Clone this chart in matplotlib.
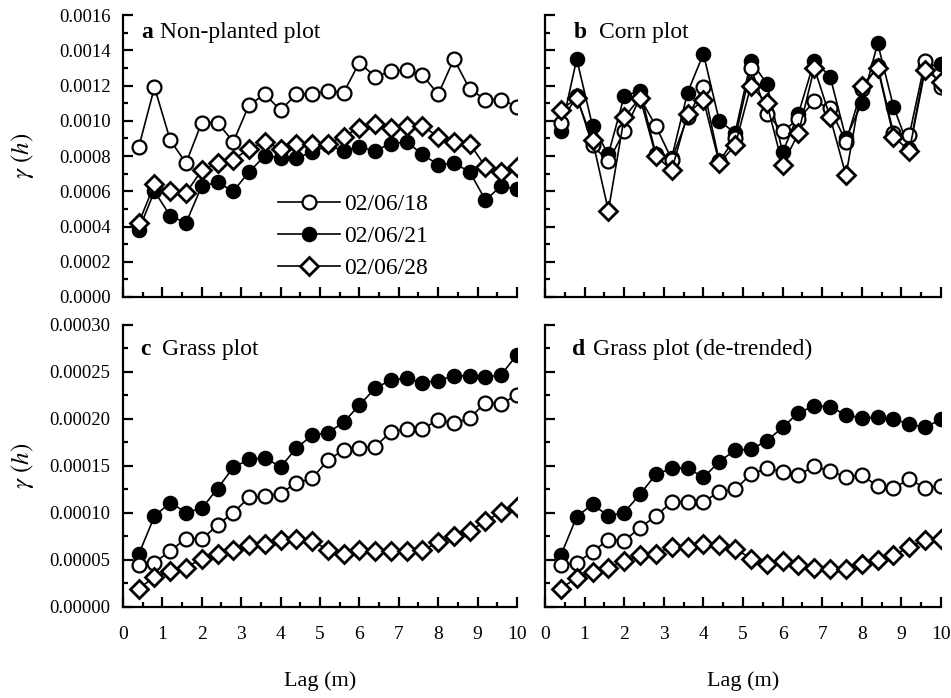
import matplotlib.pyplot as plt
from matplotlib.ticker import MultipleLocator, FormatStrFormatter

plt.rcParams['font.family'] = ['Liberation Serif', 'DejaVu Serif']
plt.rcParams['mathtext.fontset'] = 'stix'

#lag distances (m)
lag = [0.4, 0.8, 1.2, 1.6, 2.0, 2.4, 2.8, 3.2, 3.6, 4.0, 4.4, 4.8, 5.2,
       5.6, 6.0, 6.4, 6.8, 7.2, 7.6, 8.0, 8.4, 8.8, 9.2, 9.6, 10.0]
dates = ["02/06/18", "02/06/21", "02/06/28"]

#a Non-planted plot
a18 = [0.00085, 0.00119, 0.00089, 0.00076, 0.00099, 0.00099, 0.00088, 0.00109, 0.00115,
       0.00106, 0.00115, 0.00115, 0.00117, 0.00116, 0.00133, 0.00125, 0.00128, 0.00129,
       0.00126, 0.00115, 0.00135, 0.00118, 0.00112, 0.00112, 0.00108]
a21 = [0.00038, 0.00060, 0.00046, 0.00042, 0.00063, 0.00065, 0.00060, 0.00071, 0.00080,
       0.00079, 0.00079, 0.00082, 0.00086, 0.00083, 0.00085, 0.00083, 0.00087, 0.00088,
       0.00081, 0.00075, 0.00076, 0.00071, 0.00055, 0.00063, 0.00061]
a28 = [0.00042, 0.00064, 0.00060, 0.00059, 0.00072, 0.00076, 0.00078, 0.00084, 0.00088,
       0.00084, 0.00087, 0.00087, 0.00087, 0.00091, 0.00096, 0.00098, 0.00096, 0.00097,
       0.00097, 0.00091, 0.00088, 0.00087, 0.00074, 0.00071, 0.00074]

#b Corn plot
b18 = [0.00099, 0.00114, 0.00086, 0.00077, 0.00094, 0.00113, 0.00097, 0.00078, 0.00102,
       0.00119, 0.00077, 0.00090, 0.00130, 0.00104, 0.00094, 0.00101, 0.00111, 0.00107,
       0.00088, 0.00118, 0.00131, 0.00093, 0.00092, 0.00134, 0.00119]
b21 = [0.00094, 0.00135, 0.00097, 0.00081, 0.00114, 0.00117, 0.00081, 0.00079, 0.00116,
       0.00138, 0.00100, 0.00093, 0.00134, 0.00121, 0.00082, 0.00104, 0.00134, 0.00125,
       0.00090, 0.00110, 0.00144, 0.00108, 0.00084, 0.00131, 0.00132]
b28 = [0.00106, 0.00113, 0.00089, 0.00049, 0.00102, 0.00113, 0.00080, 0.00072, 0.00104,
       0.00112, 0.00076, 0.00086, 0.00120, 0.00110, 0.00075, 0.00093, 0.00130, 0.00102,
       0.00069, 0.00120, 0.00130, 0.00091, 0.00083, 0.00129, 0.00122]

#c Grass plot
c18 = [0.0000444, 0.0000472, 0.0000597, 0.0000728, 0.0000721, 0.0000870, 0.0001005,
       0.0001165, 0.0001179, 0.0001207, 0.0001321, 0.0001367, 0.0001563, 0.0001669,
       0.0001694, 0.0001705, 0.0001864, 0.0001893, 0.0001894, 0.0001990, 0.0001955,
       0.0002008, 0.0002175, 0.0002160, 0.0002257]
c21 = [0.0000561, 0.0000966, 0.0001111, 0.0001005, 0.0001048, 0.0001260, 0.0001484,
       0.0001570, 0.0001587, 0.0001491, 0.0001687, 0.0001829, 0.0001854, 0.0001964,
       0.0002148, 0.0002326, 0.0002415, 0.0002433, 0.0002388, 0.0002408, 0.0002460,
       0.0002460, 0.0002445, 0.0002470, 0.0002683]
c28 = [0.0000195, 0.0000320, 0.0000384, 0.0000419, 0.0000515, 0.0000568, 0.0000604,
       0.0000657, 0.0000668, 0.0000717, 0.0000728, 0.0000703, 0.0000611, 0.0000568,
       0.0000611, 0.0000597, 0.0000597, 0.0000597, 0.0000604, 0.0000686, 0.0000760,
       0.0000810, 0.0000910, 0.0001013, 0.0001066]

#d Grass plot (de-trended)
d18 = [0.0000444, 0.0000472, 0.0000586, 0.0000717, 0.0000703, 0.0000845, 0.0000966,
       0.0001119, 0.0001119, 0.0001119, 0.0001225, 0.0001250, 0.0001413, 0.0001474,
       0.0001438, 0.0001403, 0.0001499, 0.0001445, 0.0001385, 0.0001403, 0.0001286,
       0.0001268, 0.0001357, 0.0001268, 0.0001286]
d21 = [0.0000550, 0.0000959, 0.0001094, 0.0000966, 0.0001005, 0.0001200, 0.0001410,
       0.0001474, 0.0001481, 0.0001378, 0.0001545, 0.0001669, 0.0001676, 0.0001768,
       0.0001910, 0.0002067, 0.0002138, 0.0002131, 0.0002042, 0.0002013, 0.0002017,
       0.0001999, 0.0001946, 0.0001910, 0.0001996]
d28 = [0.0000195, 0.0000313, 0.0000373, 0.0000419, 0.0000490, 0.0000550, 0.0000568,
       0.0000639, 0.0000639, 0.0000668, 0.0000657, 0.0000621, 0.0000515, 0.0000462,
       0.0000490, 0.0000444, 0.0000419, 0.0000408, 0.0000408, 0.0000462, 0.0000504,
       0.0000550, 0.0000639, 0.0000710, 0.0000728]

panels = [("a", "Non-planted plot", a18, a21, a28),
          ("b", "Corn plot", b18, b21, b28),
          ("c", "Grass plot", c18, c21, c28),
          ("d", "Grass plot (de-trended)", d18, d21, d28)]

#axes boxes in figure fraction (left, bottom, width, height)
boxes = [[0.1293, 0.5745, 0.4143, 0.404], [0.5731, 0.5745, 0.4164, 0.404],
         [0.1293, 0.1304, 0.4143, 0.404], [0.5731, 0.1304, 0.4164, 0.404]]
title_pos = [(0.046, 0.094, 0.918), (0.073, 0.136, 0.918),
             (0.045, 0.098, 0.894), (0.067, 0.122, 0.894)]

fig = plt.figure(figsize=(9.51, 6.98), dpi=100)

for i, (letter, name, s18, s21, s28) in enumerate(panels):
    ax = fig.add_axes(boxes[i])
    #filled drawn first, open circles over it, diamonds on top
    l21, = ax.plot(lag, s21, color="black", lw=1.2, marker="o", ms=10,
                   mfc="black", mec="black", mew=1.2)
    l18, = ax.plot(lag, s18, color="black", lw=1.2, marker="o", ms=10,
                   mfc="white", mec="black", mew=1.6)
    l28, = ax.plot(lag, s28, color="black", lw=1.2, marker="D", ms=9,
                   mfc="white", mec="black", mew=2.0)

    ax.set_xlim(0, 10)
    ax.xaxis.set_major_locator(MultipleLocator(1))
    ax.xaxis.set_minor_locator(MultipleLocator(0.5))
    if i < 2:
        ax.set_ylim(0, 0.0016)
        ax.yaxis.set_major_locator(MultipleLocator(0.0002))
        ax.yaxis.set_minor_locator(MultipleLocator(0.0001))
        ax.yaxis.set_major_formatter(FormatStrFormatter("%.4f"))
    else:
        ax.set_ylim(0, 0.0003)
        ax.yaxis.set_major_locator(MultipleLocator(0.00005))
        ax.yaxis.set_minor_locator(MultipleLocator(0.000025))
        ax.yaxis.set_major_formatter(FormatStrFormatter("%.5f"))

    for side in ["top", "right"]:
        ax.spines[side].set_visible(False)
    for side in ["left", "bottom"]:
        ax.spines[side].set_linewidth(1.6)
    ax.tick_params(which="both", direction="in", width=1.6)
    ax.tick_params(which="major", length=7)
    ax.tick_params(which="minor", length=3.5)
    ax.tick_params(axis="x", labelsize=14, pad=14)
    ax.tick_params(axis="y", labelsize=13.5, pad=9)
    if i < 2:
        ax.tick_params(axis="x", labelbottom=False)
    if i % 2 == 1:
        ax.tick_params(axis="y", labelleft=False)
    else:
        fig.text(0.024, boxes[i][1] + boxes[i][3] / 2, r"$\gamma\ (h)$",
                 rotation=90, ha="center", va="center", fontsize=18)
    if i >= 2:
        ax.set_xlabel("Lag (m)", fontsize=16, labelpad=20)

    xl, xn, yb = title_pos[i]
    ax.text(xl, yb, letter, transform=ax.transAxes, fontsize=17,
            fontweight="bold", va="baseline")
    ax.text(xn, yb, name, transform=ax.transAxes, fontsize=17, va="baseline")

    if i == 0:
        ax.legend([l18, l21, l28], dates, loc="upper left",
                  bbox_to_anchor=(0.37, 0.40), frameon=False, fontsize=17,
                  handlelength=2.6, handletextpad=0.2, labelspacing=0.45,
                  borderaxespad=0)

plt.savefig("out.png", dpi=100)
